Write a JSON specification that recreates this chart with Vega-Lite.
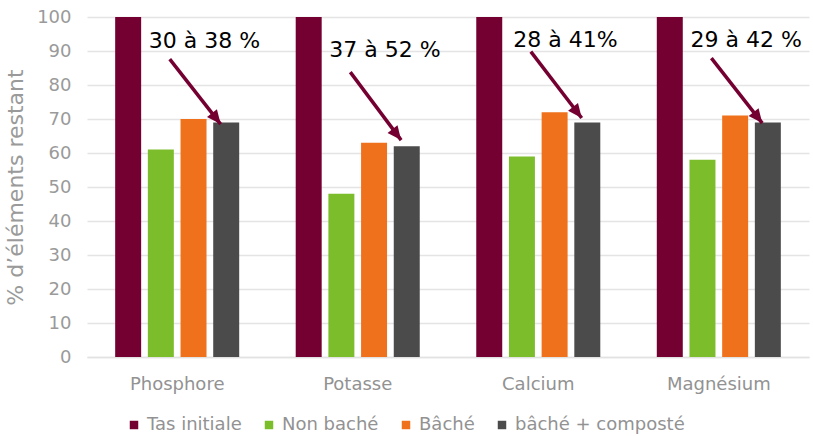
{
  "$schema": "https://vega.github.io/schema/vega-lite/v6.json",
  "width": 722,
  "height": 340,
  "autosize": {"type": "none"},
  "padding": {"left": 87, "top": 17, "right": 4, "bottom": 79},
  "background": "white",
  "config": {
    "view": {"stroke": null},
    "font": "DejaVu Sans",
    "axisY": {
      "grid": true,
      "gridColor": "#e4e4e4",
      "gridWidth": 1.5,
      "domain": false,
      "ticks": false,
      "labelFontSize": 18,
      "labelColor": "#9a9a9a",
      "labelPadding": 16,
      "labelOverlap": false,
      "titleFontSize": 22,
      "titleFontWeight": "normal",
      "titleColor": "#9a9a9a",
      "titlePadding": 9
    }
  },
  "datasets": {
    "bars": [
      {"element": "Phosphore", "serie": "Tas initiale", "pct": 100},
      {"element": "Phosphore", "serie": "Non baché", "pct": 61},
      {"element": "Phosphore", "serie": "Bâché", "pct": 70},
      {"element": "Phosphore", "serie": "bâché + composté", "pct": 69},
      {"element": "Potasse", "serie": "Tas initiale", "pct": 100},
      {"element": "Potasse", "serie": "Non baché", "pct": 48},
      {"element": "Potasse", "serie": "Bâché", "pct": 63},
      {"element": "Potasse", "serie": "bâché + composté", "pct": 62},
      {"element": "Calcium", "serie": "Tas initiale", "pct": 100},
      {"element": "Calcium", "serie": "Non baché", "pct": 59},
      {"element": "Calcium", "serie": "Bâché", "pct": 72},
      {"element": "Calcium", "serie": "bâché + composté", "pct": 69},
      {"element": "Magnésium", "serie": "Tas initiale", "pct": 100},
      {"element": "Magnésium", "serie": "Non baché", "pct": 58},
      {"element": "Magnésium", "serie": "Bâché", "pct": 71},
      {"element": "Magnésium", "serie": "bâché + composté", "pct": 69}
    ],
    "notes": [
      {"element": "Phosphore", "label": "30 à 38 %", "label_y": 93, "arrow_from": 87.6, "arrow_to": 68.5},
      {"element": "Potasse", "label": "37 à 52 %", "label_y": 90.3, "arrow_from": 83.8, "arrow_to": 63.8},
      {"element": "Calcium", "label": "28 à 41%", "label_y": 93.2, "arrow_from": 89.8, "arrow_to": 70.3},
      {"element": "Magnésium", "label": "29 à 42 %", "label_y": 93.2, "arrow_from": 87.9, "arrow_to": 68.8}
    ]
  },
  "layer": [
    {
      "data": {"name": "bars"},
      "mark": {"type": "bar"},
      "encoding": {
        "x": {
          "field": "element",
          "type": "nominal",
          "sort": ["Phosphore", "Potasse", "Calcium", "Magnésium"],
          "scale": {"paddingInner": 0.313, "paddingOuter": 0.156},
          "axis": {
            "title": null,
            "labelAngle": 0,
            "labelFontSize": 18,
            "labelColor": "#929292",
            "labelPadding": 18,
            "ticks": false,
            "domain": true,
            "domainColor": "#e2e2e2",
            "domainWidth": 1.5
          }
        },
        "xOffset": {
          "field": "serie",
          "type": "nominal",
          "sort": ["Tas initiale", "Non baché", "Bâché", "bâché + composté"],
          "scale": {"paddingInner": 0.205, "paddingOuter": 0}
        },
        "y": {
          "field": "pct",
          "type": "quantitative",
          "title": "% d’éléments restant",
          "scale": {"domain": [0, 100], "nice": false},
          "axis": {"values": [0, 10, 20, 30, 40, 50, 60, 70, 80, 90, 100]}
        },
        "color": {
          "field": "serie",
          "type": "nominal",
          "sort": ["Tas initiale", "Non baché", "Bâché", "bâché + composté"],
          "scale": {
            "domain": ["Tas initiale", "Non baché", "Bâché", "bâché + composté"],
            "range": ["#740032", "#7cbd2b", "#f0711b", "#4b4b4b"]
          },
          "legend": {
            "title": null,
            "orient": "none",
            "direction": "horizontal",
            "legendX": 38,
            "legendY": 399,
            "symbolType": "square",
            "symbolSize": 72,
            "symbolStrokeWidth": 0,
            "labelFontSize": 18,
            "labelColor": "#929292",
            "labelOffset": 4,
            "labelLimit": 300,
            "columnPadding": 18
          }
        }
      }
    },
    {
      "data": {"name": "notes"},
      "mark": {"type": "rule", "color": "#740032", "strokeWidth": 3.5},
      "encoding": {
        "x": {"field": "element", "type": "nominal", "sort": ["Phosphore", "Potasse", "Calcium", "Magnésium"], "bandPosition": 0.44},
        "x2": {"field": "element", "bandPosition": 0.85},
        "y": {"field": "arrow_from", "type": "quantitative", "title": "% d’éléments restant", "axis": {"values": [0, 10, 20, 30, 40, 50, 60, 70, 80, 90, 100]}},
        "y2": {"field": "arrow_to"}
      }
    },
    {
      "data": {"name": "notes"},
      "mark": {
        "type": "point",
        "shape": "M0,0 L0.45,1 L-0.45,1 Z",
        "filled": true,
        "opacity": 1,
        "size": 784,
        "angle": 142,
        "color": "#740032"
      },
      "encoding": {
        "x": {"field": "element", "type": "nominal", "sort": ["Phosphore", "Potasse", "Calcium", "Magnésium"], "bandPosition": 0.85},
        "y": {"field": "arrow_to", "type": "quantitative", "title": "% d’éléments restant", "axis": {"values": [0, 10, 20, 30, 40, 50, 60, 70, 80, 90, 100]}}
      }
    },
    {
      "data": {"name": "notes"},
      "mark": {"type": "text", "fontSize": 22, "color": "#000000", "align": "center", "baseline": "middle"},
      "encoding": {
        "x": {"field": "element", "type": "nominal", "sort": ["Phosphore", "Potasse", "Calcium", "Magnésium"], "bandPosition": 0.72},
        "y": {"field": "label_y", "type": "quantitative", "title": "% d’éléments restant", "axis": {"values": [0, 10, 20, 30, 40, 50, 60, 70, 80, 90, 100]}},
        "text": {"field": "label"}
      }
    }
  ]
}
